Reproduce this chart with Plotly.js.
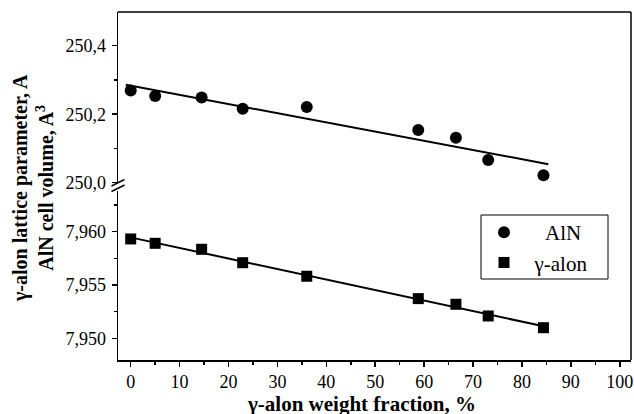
<!DOCTYPE html>
<html>
<head>
<meta charset="utf-8">
<script src="https://cdn.plot.ly/plotly-3.0.1.min.js"></script>
<style>
html,body{margin:0;padding:0;background:#fff}
#chart{width:634px;height:414px}
</style>
</head>
<body>
<div id="chart"></div>
<script>
// γ-alon weight fraction, %
const fractionAlN  = [0, 5, 14.5, 22.9, 36.0, 58.8, 66.5, 73.1, 84.4];
const volumeAlN    = [250.269, 250.253, 250.249, 250.216, 250.221, 250.154, 250.131, 250.066, 250.022];
const fractionAlon = [0, 5, 14.5, 22.9, 36.0, 58.8, 66.5, 73.1, 84.4];
const latticeAlon  = [7.95932, 7.95891, 7.95835, 7.95709, 7.95582, 7.95372, 7.95319, 7.95209, 7.95099];
const seriesNames  = ['AlN', 'γ-alon'];
const xTitle = 'γ-alon weight fraction, %';
const yTitle = 'γ-alon lattice parameter, A<br>AlN cell volume, A<sup>3</sup>';

function linfit(xs, ys) {
  const n = xs.length;
  const mx = xs.reduce((a, b) => a + b, 0) / n;
  const my = ys.reduce((a, b) => a + b, 0) / n;
  let sxy = 0, sxx = 0;
  for (let i = 0; i < n; i++) { sxy += (xs[i] - mx) * (ys[i] - my); sxx += (xs[i] - mx) ** 2; }
  const b = sxy / sxx, a = my - b * mx;
  const x0 = Math.min(...xs) - 1, x1 = Math.max(...xs) + 1;
  return { x: [x0, x1], y: [a + b * x0, a + b * x1] };
}
const fitA = linfit(fractionAlN, volumeAlN);
const fitB = linfit(fractionAlon, latticeAlon);

const FONT = 'Liberation Serif';
const traces = [
  { x: fitA.x, y: fitA.y, xaxis: 'x', yaxis: 'y2', mode: 'lines', line: { color: '#000', width: 2 }, showlegend: false, hoverinfo: 'skip' },
  { x: fitB.x, y: fitB.y, xaxis: 'x', yaxis: 'y', mode: 'lines', line: { color: '#000', width: 2 }, showlegend: false, hoverinfo: 'skip' },
  { x: fractionAlN, y: volumeAlN, xaxis: 'x', yaxis: 'y2', mode: 'markers', name: '\u00a0\u00a0\u00a0\u00a0' + seriesNames[0],
    marker: { symbol: 'circle', size: 12, color: '#000' } },
  { x: fractionAlon, y: latticeAlon, xaxis: 'x', yaxis: 'y', mode: 'markers', name: '\u00a0\u00a0' + seriesNames[1],
    marker: { symbol: 'square', size: 11, color: '#000' } }
];

const P = (px) => (px - 118) / 513;        // paper x from pixel (layout only)
const Q = (py) => (360 - py) / 348;        // paper y from pixel (layout only)

const layout = {
  width: 634, height: 414,
  margin: { l: 118, r: 3, t: 12, b: 54 },
  paper_bgcolor: '#fff', plot_bgcolor: '#fff',
  separators: ', ',
  font: { family: FONT, size: 18, color: '#000' },
  showlegend: true,
  legend: {
    x: P(484), y: Q(212), xanchor: 'left', yanchor: 'top',
    bgcolor: 'rgba(0,0,0,0)', borderwidth: 0,
    font: { family: FONT, size: 21, color: '#000' },
    tracegroupgap: 0
  },
  xaxis: {
    range: [-2.6, 102.3], anchor: 'y', domain: [0, 1],
    showgrid: false, zeroline: false, showline: true, linecolor: '#000', linewidth: 1.5,
    ticks: 'outside', ticklen: 5, tickwidth: 1.5, tickcolor: '#000',
    tick0: 0, dtick: 10,
    minor: { dtick: 5, ticks: 'outside', ticklen: 3, tickwidth: 1.5, tickcolor: '#000' },
    tickfont: { family: FONT, size: 18, color: '#000' }
  },
  yaxis: {
    domain: [0, Q(191)], range: [7.94796, 7.96382],
    showgrid: false, zeroline: false, showline: true, linecolor: '#000', linewidth: 1.5,
    ticks: 'outside', ticklen: 5, tickwidth: 1.5, tickcolor: '#000',
    tick0: 7.95, dtick: 0.005, tickformat: '.3f',
    minor: { dtick: 0.0025, ticks: 'outside', ticklen: 3, tickwidth: 1.5, tickcolor: '#000' },
    tickfont: { family: FONT, size: 18, color: '#000' }, ticklabelstandoff: 2
  },
  yaxis2: {
    domain: [Q(183), 1], range: [249.9991, 250.4984], anchor: 'x',
    showgrid: false, zeroline: false, showline: true, linecolor: '#000', linewidth: 1.5,
    ticks: 'outside', ticklen: 5, tickwidth: 1.5, tickcolor: '#000',
    tick0: 250, dtick: 0.2, tickformat: '.1f',
    minor: { dtick: 0.1, ticks: 'outside', ticklen: 3, tickwidth: 1.5, tickcolor: '#000' },
    tickfont: { family: FONT, size: 18, color: '#000' }, ticklabelstandoff: 2
  },
  shapes: [
    { type: 'line', xref: 'paper', yref: 'paper', x0: 0, x1: 1, y0: 1, y1: 1, line: { color: '#000', width: 1.5 } },
    { type: 'line', xref: 'paper', yref: 'paper', x0: 1, x1: 1, y0: 0, y1: 1, line: { color: '#000', width: 1.5 } },
    { type: 'line', xref: 'paper', yref: 'paper', xsizemode: 'pixel', ysizemode: 'pixel', xanchor: 0, yanchor: Q(185),
      x0: -6.5, x1: 6.5, y0: -1, y1: 5.5, line: { color: '#000', width: 1.5 } },
    { type: 'line', xref: 'paper', yref: 'paper', xsizemode: 'pixel', ysizemode: 'pixel', xanchor: 0, yanchor: Q(185),
      x0: -6.5, x1: 6.5, y0: -6.5, y1: 0, line: { color: '#000', width: 1.5 } },
    { type: 'rect', xref: 'paper', yref: 'paper', x0: P(481), x1: P(608), y0: Q(279), y1: Q(215),
      line: { color: '#000', width: 1 }, fillcolor: 'rgba(0,0,0,0)' }
  ],
  annotations: [
    { text: yTitle, xref: 'paper', yref: 'paper', x: P(33), y: Q(188), xanchor: 'center', yanchor: 'middle',
      textangle: -90, showarrow: false, font: { family: FONT, size: 20, weight: 'bold', color: '#000' } },
    { text: xTitle, xref: 'paper', yref: 'paper', x: P(361), y: Q(404), xanchor: 'center', yanchor: 'middle',
      showarrow: false, font: { family: FONT, size: 21, weight: 'bold', color: '#000' } }
  ]
};

Plotly.newPlot('chart', traces, layout, { displayModeBar: false, staticPlot: true });
</script>
</body>
</html>
